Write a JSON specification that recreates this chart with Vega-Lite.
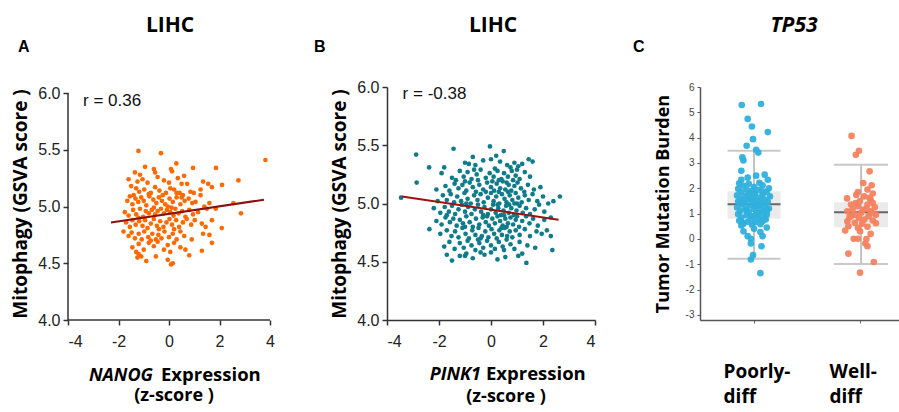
{
"$schema": "https://vega.github.io/schema/vega-lite/v6.json",
"background": "white",
"padding": {"left": 10, "top": 14, "right": 0, "bottom": 30},
"bounds": "flush",
"spacing": 105,
"config": {"view": {"stroke": null}},
"hconcat": [
{
"width": 214, "height": 233,
"encoding": {
"x": {"field": "x", "type": "quantitative", "scale": {"domain": [-4, 4.475], "nice": false, "zero": false},
 "axis": {"values": [-4, -2, 0, 2, 4], "title": null, "grid": false, "domain": false, "tickColor": "#333", "tickWidth": 1.5, "tickSize": 5, "labelFont": "Liberation Sans", "labelFontSize": 16, "labelColor": "#222", "labelPadding": 8, "labelExpr": "datum.value < 0 ? '-' + abs(datum.value) : '' + datum.value"}},
"y": {"field": "y", "type": "quantitative", "scale": {"domain": [4, 6.053], "nice": false, "zero": false},
 "axis": {"values": [4, 4.5, 5, 5.5, 6], "format": ".1f", "grid": false, "domain": false, "tickColor": "#333", "tickWidth": 1.5, "tickSize": 5, "labelFont": "Liberation Sans", "labelFontSize": 16, "labelColor": "#222", "labelPadding": 3,
  "title": "Mitophagy (GSVA score )", "titleFont": "Open Sans", "titleFontSize": 19, "titleFontWeight": "bold", "titleColor": "#000", "titleX": -48, "titleY": 116.5, "titleAngle": 270, "titleAlign": "center", "titleBaseline": "middle"}}
},
"layer": [
{"data": {"values": [{"x": -4, "x2": 4, "y": 4}]},
 "mark": {"type": "rule", "color": "#333", "strokeWidth": 1.5},
 "encoding": {"x2": {"field": "x2"}}},
{"data": {"values": [{"x": -4, "y": 4, "y2": 6}]},
 "mark": {"type": "rule", "color": "#333", "strokeWidth": 1.5},
 "encoding": {"y2": {"field": "y2"}}},
{"data": {"values": [
{"x":-1.21,"y":5.49},{"x":-0.32,"y":5.47},{"x":3.82,"y":5.41},
{"x":0.29,"y":5.38},{"x":-0.95,"y":5.35},{"x":-0.6,"y":5.33},{"x":0.08,"y":5.33},{"x":0.12,"y":5.31},{"x":1.86,"y":5.34},{"x":0.95,"y":5.34},{"x":-1.35,"y":5.30},{"x":-0.55,"y":5.30},
{"x":-1.6,"y":5.24},{"x":-1.25,"y":5.22},{"x":-1.05,"y":5.24},{"x":-0.85,"y":5.21},{"x":-0.45,"y":5.26},{"x":-0.2,"y":5.23},{"x":0.0,"y":5.21},{"x":0.35,"y":5.25},{"x":0.6,"y":5.27},{"x":0.72,"y":5.2},{"x":1.35,"y":5.22},{"x":1.55,"y":5.2},{"x":2.75,"y":5.23},{"x":-1.15,"y":5.28},{"x":0.5,"y":5.2},{"x":1.25,"y":5.15},
{"x":-1.5,"y":5.18},{"x":-1.3,"y":5.16},{"x":-1.18,"y":5.13},{"x":-0.98,"y":5.15},{"x":-0.72,"y":5.12},{"x":-0.55,"y":5.17},{"x":-0.38,"y":5.14},{"x":-0.25,"y":5.1},{"x":0.05,"y":5.16},{"x":0.2,"y":5.15},{"x":0.3,"y":5.12},{"x":0.42,"y":5.12},{"x":0.85,"y":5.13},{"x":0.98,"y":5.12},{"x":1.25,"y":5.1},{"x":1.7,"y":5.17},{"x":2.1,"y":5.19},{"x":-0.12,"y":5.12},{"x":-1.4,"y":5.1},{"x":-0.8,"y":5.11},{"x":0.55,"y":5.1},
{"x":-1.65,"y":5.05},{"x":-1.45,"y":5.02},{"x":-1.33,"y":5.07},{"x":-1.22,"y":5.04},{"x":-1.1,"y":5.08},{"x":-1.0,"y":5.05},{"x":-0.9,"y":5.01},{"x":-0.78,"y":5.09},{"x":-0.62,"y":5.06},{"x":-0.5,"y":5.03},{"x":-0.4,"y":5.08},{"x":-0.28,"y":5.05},{"x":-0.15,"y":5.02},{"x":0.02,"y":5.07},{"x":0.15,"y":5.04},{"x":0.3,"y":5.08},{"x":0.45,"y":5.02},{"x":0.62,"y":5.05},{"x":0.78,"y":5.07},{"x":0.92,"y":5.03},{"x":1.05,"y":5.04},{"x":1.4,"y":5.0},{"x":1.6,"y":5.03},{"x":2.55,"y":5.03},{"x":-1.55,"y":5.09},{"x":-0.05,"y":5.0},{"x":0.5,"y":5.08},
{"x":-1.75,"y":4.95},{"x":-1.6,"y":4.92},{"x":-1.42,"y":4.97},{"x":-1.3,"y":4.93},{"x":-1.15,"y":4.98},{"x":-1.02,"y":4.91},{"x":-0.92,"y":4.96},{"x":-0.8,"y":4.94},{"x":-0.68,"y":4.97},{"x":-0.55,"y":4.93},{"x":-0.45,"y":4.96},{"x":-0.32,"y":4.98},{"x":-0.2,"y":4.94},{"x":-0.08,"y":4.97},{"x":0.05,"y":4.95},{"x":0.18,"y":4.92},{"x":0.25,"y":4.98},{"x":0.38,"y":4.94},{"x":0.52,"y":4.96},{"x":0.65,"y":4.91},{"x":0.8,"y":4.97},{"x":0.95,"y":4.93},{"x":1.15,"y":4.95},{"x":1.5,"y":4.98},{"x":1.85,"y":4.98},{"x":2.85,"y":4.94},{"x":-0.6,"y":4.99},{"x":0.1,"y":4.99},{"x":-1.2,"y":4.9},
{"x":-1.7,"y":4.86},{"x":-1.55,"y":4.82},{"x":-1.45,"y":4.88},{"x":-1.32,"y":4.84},{"x":-1.18,"y":4.87},{"x":-1.05,"y":4.83},{"x":-0.95,"y":4.88},{"x":-0.85,"y":4.81},{"x":-0.72,"y":4.85},{"x":-0.6,"y":4.89},{"x":-0.48,"y":4.83},{"x":-0.35,"y":4.87},{"x":-0.22,"y":4.82},{"x":-0.1,"y":4.86},{"x":0.02,"y":4.89},{"x":0.12,"y":4.84},{"x":0.28,"y":4.88},{"x":0.4,"y":4.82},{"x":0.55,"y":4.86},{"x":0.7,"y":4.89},{"x":0.88,"y":4.84},{"x":1.02,"y":4.88},{"x":1.3,"y":4.85},{"x":1.45,"y":4.82},{"x":1.7,"y":4.88},{"x":2.09,"y":4.81},{"x":-0.4,"y":4.8},{"x":0.2,"y":4.8},
{"x":-1.8,"y":4.78},{"x":-1.6,"y":4.74},{"x":-1.48,"y":4.77},{"x":-1.35,"y":4.72},{"x":-1.2,"y":4.76},{"x":-1.08,"y":4.71},{"x":-0.98,"y":4.78},{"x":-0.82,"y":4.73},{"x":-0.66,"y":4.76},{"x":-0.52,"y":4.71},{"x":-0.42,"y":4.75},{"x":-0.3,"y":4.72},{"x":-0.18,"y":4.78},{"x":0.0,"y":4.73},{"x":0.15,"y":4.76},{"x":0.3,"y":4.71},{"x":0.45,"y":4.78},{"x":0.6,"y":4.74},{"x":0.9,"y":4.71},{"x":1.35,"y":4.76},{"x":1.6,"y":4.75},{"x":-0.72,"y":4.7},
{"x":-1.45,"y":4.64},{"x":-1.2,"y":4.67},{"x":-1.0,"y":4.62},{"x":-0.8,"y":4.68},{"x":-0.6,"y":4.65},{"x":-0.45,"y":4.69},{"x":-0.2,"y":4.62},{"x":-0.05,"y":4.66},{"x":0.2,"y":4.68},{"x":0.45,"y":4.64},{"x":0.65,"y":4.62},{"x":1.3,"y":4.61},{"x":1.7,"y":4.68},{"x":-1.3,"y":4.6},{"x":0.05,"y":4.6},
{"x":-1.25,"y":4.55},{"x":-1.1,"y":4.56},{"x":-0.9,"y":4.52},{"x":-0.52,"y":4.56},{"x":-0.05,"y":4.53},{"x":0.08,"y":4.49},{"x":0.8,"y":4.57},{"x":-1.2,"y":4.58},{"x":0.15,"y":4.5}
]},
 "mark": {"type": "circle", "size": 22, "opacity": 1, "color": "#ff6a00"}},
{"data": {"values": [{"x": -2.3, "y": 4.86}, {"x": 3.76, "y": 5.06}]},
 "mark": {"type": "line", "color": "#8b1010", "strokeWidth": 2}},
{"data": {"values": [{"x": -3.406, "y": 5.886, "t": "r = 0.36"}]},
 "mark": {"type": "text", "font": "Liberation Sans", "fontSize": 17, "align": "left", "baseline": "alphabetic", "color": "#111"},
 "encoding": {"text": {"field": "t", "type": "nominal"}}},
{"data": {"values": [{"x": -5.98, "y": 6.361, "t": "A"}]},
 "mark": {"type": "text", "font": "Liberation Sans", "fontSize": 16, "fontWeight": "bold", "align": "left", "baseline": "alphabetic", "color": "#000"},
 "encoding": {"text": {"field": "t", "type": "nominal"}}},
{"data": {"values": [{"x": 0.04, "y": 6.538, "t": "LIHC"}]},
 "mark": {"type": "text", "font": "Open Sans", "fontSize": 21, "fontWeight": "bold", "align": "center", "baseline": "alphabetic", "color": "#000"},
 "encoding": {"text": {"field": "t", "type": "nominal"}}},
{"data": {"values": [{"x": -0.634, "y": 3.463, "t": "NANOG"}]},
 "mark": {"type": "text", "font": "Open Sans", "fontSize": 18, "fontWeight": "bold", "fontStyle": "italic", "align": "right", "baseline": "alphabetic", "color": "#000"},
 "encoding": {"text": {"field": "t", "type": "nominal"}}},
{"data": {"values": [{"x": -0.317, "y": 3.463, "t": "Expression"}]},
 "mark": {"type": "text", "font": "Open Sans", "fontSize": 18.5, "fontWeight": "bold", "align": "left", "baseline": "alphabetic", "color": "#000"},
 "encoding": {"text": {"field": "t", "type": "nominal"}}},
{"data": {"values": [{"x": 0.198, "y": 3.29, "t": "(z-score )"}]},
 "mark": {"type": "text", "font": "Open Sans", "fontSize": 18, "fontWeight": "bold", "align": "center", "baseline": "alphabetic", "color": "#000"},
 "encoding": {"text": {"field": "t", "type": "nominal"}}}
]
},
{
"width": 208, "height": 233,
"encoding": {
"x": {"field": "x", "type": "quantitative", "scale": {"domain": [-4, 4], "nice": false, "zero": false},
 "axis": {"values": [-4, -2, 0, 2, 4], "title": null, "grid": false, "domainColor": "#333", "domainWidth": 1.5, "tickColor": "#333", "tickWidth": 1.5, "tickSize": 5, "labelFont": "Liberation Sans", "labelFontSize": 16, "labelColor": "#222", "labelPadding": 8, "labelExpr": "datum.value < 0 ? '-' + abs(datum.value) : '' + datum.value"}},
"y": {"field": "y", "type": "quantitative", "scale": {"domain": [4, 6], "nice": false, "zero": false},
 "axis": {"values": [4, 4.5, 5, 5.5, 6], "format": ".1f", "grid": false, "domainColor": "#333", "domainWidth": 1.5, "tickColor": "#333", "tickWidth": 1.5, "tickSize": 5, "labelFont": "Liberation Sans", "labelFontSize": 16, "labelColor": "#222", "labelPadding": 3,
  "title": "Mitophagy (GSVA score )", "titleFont": "Open Sans", "titleFontSize": 19, "titleFontWeight": "bold", "titleColor": "#000", "titleX": -48, "titleY": 116.5, "titleAngle": 270, "titleAlign": "center", "titleBaseline": "middle"}}
},
"layer": [
{"data": {"values": [
{"x":-2.88,"y":5.42},{"x":-1.44,"y":5.47},{"x":-0.04,"y":5.49},{"x":0.49,"y":5.45},{"x":1.45,"y":5.38},{"x":0.2,"y":5.41},{"x":-0.7,"y":5.40},
{"x":-2.38,"y":5.31},{"x":-1.0,"y":5.35},{"x":-0.6,"y":5.33},{"x":-0.3,"y":5.37},{"x":0.0,"y":5.38},{"x":0.35,"y":5.36},{"x":0.62,"y":5.33},{"x":0.9,"y":5.35},{"x":1.05,"y":5.32},{"x":1.6,"y":5.36},{"x":-1.8,"y":5.31},{"x":-0.85,"y":5.34},{"x":0.75,"y":5.31},{"x":0.15,"y":5.3},{"x":1.2,"y":5.34},
{"x":-1.9,"y":5.26},{"x":-1.5,"y":5.22},{"x":-1.2,"y":5.28},{"x":-1.05,"y":5.23},{"x":-0.9,"y":5.27},{"x":-0.75,"y":5.21},{"x":-0.55,"y":5.25},{"x":-0.4,"y":5.29},{"x":-0.2,"y":5.22},{"x":-0.05,"y":5.26},{"x":0.1,"y":5.23},{"x":0.25,"y":5.28},{"x":0.4,"y":5.21},{"x":0.5,"y":5.26},{"x":0.65,"y":5.23},{"x":0.8,"y":5.28},{"x":0.95,"y":5.24},{"x":1.1,"y":5.21},{"x":1.3,"y":5.27},{"x":1.5,"y":5.23},{"x":-1.35,"y":5.2},{"x":0.3,"y":5.2},{"x":0.85,"y":5.2},{"x":-0.65,"y":5.29},{"x":1.0,"y":5.29},
{"x":-2.86,"y":5.18},{"x":-2.1,"y":5.12},{"x":-1.75,"y":5.15},{"x":-1.6,"y":5.11},{"x":-1.4,"y":5.17},{"x":-1.25,"y":5.13},{"x":-1.1,"y":5.16},{"x":-0.95,"y":5.11},{"x":-0.82,"y":5.18},{"x":-0.7,"y":5.14},{"x":-0.58,"y":5.1},{"x":-0.45,"y":5.16},{"x":-0.3,"y":5.12},{"x":-0.15,"y":5.18},{"x":0.0,"y":5.14},{"x":0.12,"y":5.11},{"x":0.22,"y":5.17},{"x":0.35,"y":5.13},{"x":0.45,"y":5.19},{"x":0.55,"y":5.12},{"x":0.68,"y":5.16},{"x":0.78,"y":5.11},{"x":0.9,"y":5.15},{"x":1.02,"y":5.18},{"x":1.15,"y":5.13},{"x":1.28,"y":5.1},{"x":1.42,"y":5.16},{"x":1.65,"y":5.12},{"x":1.9,"y":5.14},{"x":-0.5,"y":5.2},{"x":0.05,"y":5.19},{"x":0.6,"y":5.18},{"x":0.3,"y":5.1},{"x":-1.0,"y":5.19},
{"x":-3.46,"y":5.05},{"x":-2.05,"y":5.02},{"x":-1.85,"y":5.07},{"x":-1.7,"y":5.03},{"x":-1.55,"y":5.08},{"x":-1.42,"y":5.01},{"x":-1.3,"y":5.06},{"x":-1.15,"y":5.02},{"x":-1.02,"y":5.09},{"x":-0.9,"y":5.04},{"x":-0.78,"y":5.0},{"x":-0.65,"y":5.07},{"x":-0.52,"y":5.03},{"x":-0.4,"y":5.08},{"x":-0.28,"y":5.01},{"x":-0.12,"y":5.05},{"x":0.0,"y":5.09},{"x":0.1,"y":5.02},{"x":0.2,"y":5.06},{"x":0.32,"y":5.0},{"x":0.42,"y":5.08},{"x":0.52,"y":5.04},{"x":0.6,"y":5.01},{"x":0.72,"y":5.07},{"x":0.82,"y":5.03},{"x":0.95,"y":5.09},{"x":1.05,"y":5.05},{"x":1.18,"y":5.01},{"x":1.3,"y":5.07},{"x":1.45,"y":5.03},{"x":1.6,"y":5.08},{"x":1.78,"y":5.02},{"x":2.0,"y":5.06},{"x":2.2,"y":5.0},{"x":2.65,"y":5.06},{"x":2.4,"y":5.02},{"x":-0.2,"y":5.1},{"x":0.65,"y":5.1},{"x":-0.95,"y":5.0},{"x":0.9,"y":5.0},
{"x":-2.2,"y":4.96},{"x":-1.95,"y":4.92},{"x":-1.78,"y":4.97},{"x":-1.62,"y":4.93},{"x":-1.5,"y":4.98},{"x":-1.38,"y":4.91},{"x":-1.25,"y":4.95},{"x":-1.12,"y":4.99},{"x":-1.0,"y":4.93},{"x":-0.88,"y":4.97},{"x":-0.75,"y":4.91},{"x":-0.62,"y":4.95},{"x":-0.5,"y":4.99},{"x":-0.38,"y":4.93},{"x":-0.25,"y":4.97},{"x":-0.12,"y":4.91},{"x":0.0,"y":4.95},{"x":0.08,"y":4.99},{"x":0.18,"y":4.92},{"x":0.28,"y":4.96},{"x":0.38,"y":4.9},{"x":0.48,"y":4.94},{"x":0.58,"y":4.98},{"x":0.68,"y":4.92},{"x":0.78,"y":4.96},{"x":0.88,"y":4.9},{"x":0.98,"y":4.94},{"x":1.1,"y":4.98},{"x":1.22,"y":4.92},{"x":1.35,"y":4.96},{"x":1.5,"y":4.91},{"x":1.68,"y":4.95},{"x":1.85,"y":4.99},{"x":2.05,"y":4.93},{"x":-0.3,"y":4.9},{"x":0.5,"y":4.9},{"x":1.0,"y":5.0},{"x":-1.7,"y":4.9},{"x":0.25,"y":4.99},{"x":0.7,"y":4.99},
{"x":-2.1,"y":4.85},{"x":-1.9,"y":4.82},{"x":-1.75,"y":4.88},{"x":-1.58,"y":4.84},{"x":-1.45,"y":4.87},{"x":-1.32,"y":4.81},{"x":-1.2,"y":4.86},{"x":-1.08,"y":4.83},{"x":-0.95,"y":4.89},{"x":-0.82,"y":4.84},{"x":-0.7,"y":4.8},{"x":-0.58,"y":4.87},{"x":-0.45,"y":4.82},{"x":-0.32,"y":4.88},{"x":-0.2,"y":4.84},{"x":-0.08,"y":4.81},{"x":0.05,"y":4.87},{"x":0.15,"y":4.83},{"x":0.25,"y":4.89},{"x":0.35,"y":4.85},{"x":0.45,"y":4.81},{"x":0.55,"y":4.87},{"x":0.65,"y":4.83},{"x":0.75,"y":4.88},{"x":0.85,"y":4.82},{"x":0.95,"y":4.86},{"x":1.08,"y":4.8},{"x":1.2,"y":4.85},{"x":1.35,"y":4.89},{"x":1.48,"y":4.83},{"x":1.62,"y":4.87},{"x":1.8,"y":4.81},{"x":2.05,"y":4.86},{"x":2.3,"y":4.88},{"x":-0.15,"y":4.89},{"x":0.6,"y":4.8},{"x":1.0,"y":4.89},{"x":-1.0,"y":4.8},
{"x":-2.37,"y":4.78},{"x":-1.95,"y":4.74},{"x":-1.7,"y":4.77},{"x":-1.52,"y":4.72},{"x":-1.38,"y":4.76},{"x":-1.25,"y":4.71},{"x":-1.1,"y":4.79},{"x":-0.98,"y":4.74},{"x":-0.85,"y":4.7},{"x":-0.72,"y":4.77},{"x":-0.6,"y":4.73},{"x":-0.48,"y":4.79},{"x":-0.35,"y":4.72},{"x":-0.22,"y":4.76},{"x":-0.1,"y":4.71},{"x":0.02,"y":4.78},{"x":0.12,"y":4.74},{"x":0.22,"y":4.7},{"x":0.32,"y":4.77},{"x":0.42,"y":4.73},{"x":0.52,"y":4.79},{"x":0.62,"y":4.72},{"x":0.72,"y":4.76},{"x":0.82,"y":4.71},{"x":0.95,"y":4.77},{"x":1.1,"y":4.73},{"x":1.3,"y":4.78},{"x":1.5,"y":4.72},{"x":1.75,"y":4.76},{"x":1.95,"y":4.74},{"x":2.15,"y":4.77},{"x":2.3,"y":4.72},{"x":-0.4,"y":4.7},{"x":0.4,"y":4.79},
{"x":-1.8,"y":4.63},{"x":-1.6,"y":4.67},{"x":-1.4,"y":4.61},{"x":-1.2,"y":4.66},{"x":-1.05,"y":4.62},{"x":-0.9,"y":4.68},{"x":-0.75,"y":4.64},{"x":-0.6,"y":4.6},{"x":-0.45,"y":4.66},{"x":-0.3,"y":4.62},{"x":-0.15,"y":4.68},{"x":0.0,"y":4.64},{"x":0.15,"y":4.61},{"x":0.3,"y":4.67},{"x":0.45,"y":4.63},{"x":0.6,"y":4.69},{"x":0.75,"y":4.65},{"x":0.9,"y":4.61},{"x":1.1,"y":4.67},{"x":1.4,"y":4.64},{"x":1.7,"y":4.62},{"x":2.36,"y":4.60},{"x":-0.5,"y":4.69},{"x":0.5,"y":4.6},
{"x":-1.7,"y":4.56},{"x":-1.5,"y":4.51},{"x":-1.2,"y":4.55},{"x":-0.95,"y":4.57},{"x":-0.7,"y":4.53},{"x":-0.4,"y":4.58},{"x":-0.25,"y":4.56},{"x":0.25,"y":4.52},{"x":0.55,"y":4.54},{"x":1.05,"y":4.55},{"x":1.36,"y":4.49},{"x":-1.0,"y":4.55},{"x":0.0,"y":4.58},{"x":1.2,"y":4.57}
]},
 "mark": {"type": "circle", "size": 22, "opacity": 1, "color": "#107b8a"}},
{"data": {"values": [{"x": -3.43, "y": 5.06}, {"x": 2.6, "y": 4.86}]},
 "mark": {"type": "line", "color": "#a01010", "strokeWidth": 2}},
{"data": {"values": [{"x": -3.40, "y": 5.897, "t": "r = -0.38"}]},
 "mark": {"type": "text", "font": "Liberation Sans", "fontSize": 17, "align": "left", "baseline": "alphabetic", "color": "#111"},
 "encoding": {"text": {"field": "t", "type": "nominal"}}},
{"data": {"values": [{"x": -6.81, "y": 6.30, "t": "B"}]},
 "mark": {"type": "text", "font": "Liberation Sans", "fontSize": 16, "fontWeight": "bold", "align": "left", "baseline": "alphabetic", "color": "#000"},
 "encoding": {"text": {"field": "t", "type": "nominal"}}},
{"data": {"values": [{"x": 0.077, "y": 6.472, "t": "LIHC"}]},
 "mark": {"type": "text", "font": "Open Sans", "fontSize": 21, "fontWeight": "bold", "align": "center", "baseline": "alphabetic", "color": "#000"},
 "encoding": {"text": {"field": "t", "type": "nominal"}}},
{"data": {"values": [{"x": -0.385, "y": 3.485, "t": "PINK1"}]},
 "mark": {"type": "text", "font": "Open Sans", "fontSize": 18, "fontWeight": "bold", "fontStyle": "italic", "align": "right", "baseline": "alphabetic", "color": "#000"},
 "encoding": {"text": {"field": "t", "type": "nominal"}}},
{"data": {"values": [{"x": -0.192, "y": 3.485, "t": "Expression"}]},
 "mark": {"type": "text", "font": "Open Sans", "fontSize": 18.5, "fontWeight": "bold", "align": "left", "baseline": "alphabetic", "color": "#000"},
 "encoding": {"text": {"field": "t", "type": "nominal"}}},
{"data": {"values": [{"x": 0.577, "y": 3.3, "t": "(z-score )"}]},
 "mark": {"type": "text", "font": "Open Sans", "fontSize": 18, "fontWeight": "bold", "align": "center", "baseline": "alphabetic", "color": "#000"},
 "encoding": {"text": {"field": "t", "type": "nominal"}}}
]
},
{
"width": 200, "height": 233,
"encoding": {
"x": {"field": "x", "type": "quantitative", "scale": {"domain": [0.49, 2.377], "nice": false, "zero": false},
 "axis": {"values": [1, 2], "title": null, "grid": false, "domainColor": "#555", "domainWidth": 1.5, "tickColor": "#666", "tickWidth": 1, "tickSize": 3, "labelFont": "Open Sans", "labelFontSize": 19, "labelFontWeight": "bold", "labelColor": "#000", "labelAlign": "left", "labelOffset": -31, "labelBaseline": "alphabetic", "labelPadding": 54, "labelLineHeight": 25, "labelFlush": false, "labelOverlap": false,
  "labelExpr": "datum.value == 1 ? ['Poorly-', 'diff'] : ['Well-', 'diff']"}},
"y": {"field": "y", "type": "quantitative", "scale": {"domain": [-3.2, 6], "nice": false, "zero": false},
 "axis": {"values": [-3, -2, -1, 0, 1, 2, 3, 4, 5, 6], "grid": false, "domainColor": "#555", "domainWidth": 1.5, "tickColor": "#555", "tickWidth": 1, "tickSize": 3, "labelFont": "Liberation Sans", "labelFontSize": 10, "labelColor": "#444", "labelPadding": 3,
  "labelExpr": "datum.value < 0 ? '-' + abs(datum.value) : '' + datum.value",
  "title": "Tumor Mutation Burden", "titleFont": "Open Sans", "titleFontSize": 18, "titleFontWeight": "bold", "titleColor": "#000", "titleX": -37, "titleY": 116.5, "titleAngle": 270, "titleAlign": "center", "titleBaseline": "middle"}}
},
"layer": [
{"data": {"values": [{"x": 0.75, "x2": 1.25, "y": 0.80, "y2": 1.88}, {"x": 1.755, "x2": 2.264, "y": 0.46, "y2": 1.45}]},
 "mark": {"type": "rect", "color": "#ebebeb"},
 "encoding": {"x2": {"field": "x2"}, "y2": {"field": "y2"}}},
{"data": {"values": [{"x": 1.0, "y": -0.78, "y2": 3.48}, {"x": 2.01, "y": -0.99, "y2": 2.93}]},
 "mark": {"type": "rule", "color": "#c2c2c2", "strokeWidth": 2},
 "encoding": {"y2": {"field": "y2"}}},
{"data": {"values": [{"x": 0.75, "x2": 1.25, "y": 3.48}, {"x": 0.75, "x2": 1.25, "y": -0.78}, {"x": 1.755, "x2": 2.264, "y": 2.93}, {"x": 1.755, "x2": 2.264, "y": -0.99}]},
 "mark": {"type": "rule", "color": "#c8c8c8", "strokeWidth": 2},
 "encoding": {"x2": {"field": "x2"}}},
{"data": {"values": [{"x": 0.75, "x2": 1.25, "y": 1.37}, {"x": 1.755, "x2": 2.264, "y": 1.05}]},
 "mark": {"type": "rule", "color": "#666666", "strokeWidth": 2},
 "encoding": {"x2": {"field": "x2"}}},
{"data": {"values": [
{"g":"P","x":0.884,"y":5.29},{"g":"P","x":1.066,"y":5.33},{"g":"P","x":0.94,"y":4.74},{"g":"P","x":0.98,"y":4.44},{"g":"P","x":1.13,"y":4.22},{"g":"P","x":0.99,"y":3.94},{"g":"P","x":0.93,"y":3.68},{"g":"P","x":1.02,"y":3.52},{"g":"P","x":1.04,"y":3.41},{"g":"P","x":0.89,"y":3.22},{"g":"P","x":0.9,"y":3.1},{"g":"P","x":0.88,"y":2.69},{"g":"P","x":0.88,"y":2.34},{"g":"P","x":0.94,"y":2.42},{"g":"P","x":1.02,"y":2.5},{"g":"P","x":1.10,"y":2.54},{"g":"P","x":1.13,"y":2.34},
{"g":"P","x":0.86,"y":2.2},{"g":"P","x":0.95,"y":2.18},{"g":"P","x":1.05,"y":2.22},{"g":"P","x":0.9,"y":2.1},{"g":"P","x":1.0,"y":2.05},{"g":"P","x":1.08,"y":2.12},{"g":"P","x":1.14,"y":2.0},{"g":"P","x":0.85,"y":1.98},{"g":"P","x":0.93,"y":1.95},{"g":"P","x":0.98,"y":1.9},{"g":"P","x":1.04,"y":1.94},{"g":"P","x":1.12,"y":1.86},{"g":"P","x":0.88,"y":1.85},{"g":"P","x":0.96,"y":1.8},{"g":"P","x":1.01,"y":1.78},{"g":"P","x":1.08,"y":1.75},{"g":"P","x":0.84,"y":1.72},{"g":"P","x":0.92,"y":1.7},{"g":"P","x":1.0,"y":1.66},{"g":"P","x":1.06,"y":1.62},{"g":"P","x":1.15,"y":1.68},{"g":"P","x":0.87,"y":1.6},{"g":"P","x":0.95,"y":1.56},{"g":"P","x":1.03,"y":1.52},{"g":"P","x":1.1,"y":1.55},{"g":"P","x":0.85,"y":1.48},{"g":"P","x":0.91,"y":1.44},{"g":"P","x":0.99,"y":1.42},{"g":"P","x":1.07,"y":1.4},{"g":"P","x":1.13,"y":1.46},{"g":"P","x":0.88,"y":1.36},{"g":"P","x":0.96,"y":1.32},{"g":"P","x":1.02,"y":1.3},{"g":"P","x":1.1,"y":1.28},{"g":"P","x":0.84,"y":1.24},{"g":"P","x":0.92,"y":1.2},{"g":"P","x":1.0,"y":1.18},{"g":"P","x":1.06,"y":1.14},{"g":"P","x":1.14,"y":1.2},{"g":"P","x":0.87,"y":1.1},{"g":"P","x":0.95,"y":1.06},{"g":"P","x":1.03,"y":1.02},{"g":"P","x":1.09,"y":1.05},{"g":"P","x":0.85,"y":0.98},{"g":"P","x":0.93,"y":0.94},{"g":"P","x":0.99,"y":0.9},{"g":"P","x":1.05,"y":0.92},{"g":"P","x":1.12,"y":0.96},{"g":"P","x":0.88,"y":0.84},{"g":"P","x":0.97,"y":0.8},{"g":"P","x":1.04,"y":0.78},{"g":"P","x":1.1,"y":0.82},{"g":"P","x":0.86,"y":0.72},{"g":"P","x":0.94,"y":0.68},{"g":"P","x":1.01,"y":0.66},{"g":"P","x":1.08,"y":0.7},{"g":"P","x":0.9,"y":0.6},{"g":"P","x":0.98,"y":0.56},{"g":"P","x":1.06,"y":0.58},{"g":"P","x":0.89,"y":0.64},{"g":"P","x":0.88,"y":0.53},{"g":"P","x":1.11,"y":0.77},{"g":"P","x":1.0,"y":1.75},{"g":"P","x":0.97,"y":1.6},{"g":"P","x":1.05,"y":1.35},{"g":"P","x":0.93,"y":1.12},{"g":"P","x":1.12,"y":1.12},{"g":"P","x":1.02,"y":0.98},{"g":"P","x":0.9,"y":1.5},{"g":"P","x":1.08,"y":1.88},
{"g":"P","x":0.94,"y":0.11},{"g":"P","x":0.97,"y":0.01},{"g":"P","x":0.97,"y":-0.18},{"g":"P","x":1.06,"y":0.27},{"g":"P","x":1.08,"y":0.11},{"g":"P","x":1.07,"y":-0.29},{"g":"P","x":0.99,"y":-0.64},{"g":"P","x":0.97,"y":-0.81},{"g":"P","x":1.06,"y":-1.35},{"g":"P","x":0.9,"y":0.3},{"g":"P","x":1.0,"y":0.4},{"g":"P","x":1.12,"y":0.45},
{"g":"W","x":1.92,"y":4.07},{"g":"W","x":1.99,"y":3.48},{"g":"W","x":1.96,"y":3.32},{"g":"W","x":2.09,"y":2.67},{"g":"W","x":2.03,"y":2.21},{"g":"W","x":2.11,"y":2.12},{"g":"W","x":2.07,"y":1.95},{"g":"W","x":2.12,"y":1.79},{"g":"W","x":1.877,"y":1.6},{"g":"W","x":1.965,"y":1.74},{"g":"W","x":2.04,"y":1.68},{"g":"W","x":2.10,"y":1.55},{"g":"W","x":1.915,"y":1.36},{"g":"W","x":1.978,"y":1.29},{"g":"W","x":2.07,"y":1.36},{"g":"W","x":2.12,"y":1.42},{"g":"W","x":1.88,"y":1.09},{"g":"W","x":1.95,"y":0.96},{"g":"W","x":2.01,"y":1.03},{"g":"W","x":2.10,"y":1.09},{"g":"W","x":2.15,"y":0.96},{"g":"W","x":1.88,"y":0.70},{"g":"W","x":1.95,"y":0.64},{"g":"W","x":2.04,"y":0.77},{"g":"W","x":2.12,"y":0.73},{"g":"W","x":1.89,"y":0.5},{"g":"W","x":1.98,"y":0.44},{"g":"W","x":2.07,"y":0.48},{"g":"W","x":1.94,"y":0.01},{"g":"W","x":1.98,"y":0.01},{"g":"W","x":2.05,"y":-0.18},{"g":"W","x":2.07,"y":-0.29},{"g":"W","x":1.89,"y":-0.58},{"g":"W","x":2.13,"y":-0.91},{"g":"W","x":2.0,"y":-1.33},
{"g":"W","x":2.0,"y":1.5},{"g":"W","x":2.06,"y":1.2},{"g":"W","x":1.93,"y":1.18},{"g":"W","x":2.14,"y":1.25},{"g":"W","x":1.9,"y":0.85},{"g":"W","x":1.99,"y":0.82},{"g":"W","x":2.08,"y":0.9},{"g":"W","x":2.02,"y":0.6},{"g":"W","x":1.96,"y":1.42},{"g":"W","x":2.09,"y":1.62},{"g":"W","x":1.86,"y":0.33},{"g":"W","x":2.0,"y":0.3},{"g":"W","x":2.11,"y":1.02},{"g":"W","x":1.92,"y":0.92},{"g":"W","x":2.03,"y":1.15},{"g":"W","x":2.15,"y":0.62},{"g":"W","x":1.98,"y":1.85},{"g":"W","x":2.06,"y":0.0},{"g":"W","x":2.1,"y":0.2}
]},
 "mark": {"type": "circle", "size": 44, "opacity": 0.95},
 "encoding": {"color": {"field": "g", "type": "nominal", "scale": {"domain": ["P", "W"], "range": ["#2fb0dc", "#f4825f"]}, "legend": null}}},
{"data": {"values": [{"x": -0.142, "y": 7.38, "t": "C"}]},
 "mark": {"type": "text", "font": "Liberation Sans", "fontSize": 16, "fontWeight": "bold", "align": "left", "baseline": "alphabetic", "color": "#000"},
 "encoding": {"text": {"field": "t", "type": "nominal"}}},
{"data": {"values": [{"x": 1.377, "y": 8.17, "t": "TP53"}]},
 "mark": {"type": "text", "font": "Open Sans", "fontSize": 21, "fontWeight": "bold", "fontStyle": "italic", "align": "center", "baseline": "alphabetic", "color": "#000"},
 "encoding": {"text": {"field": "t", "type": "nominal"}}}
]
}
]
}
